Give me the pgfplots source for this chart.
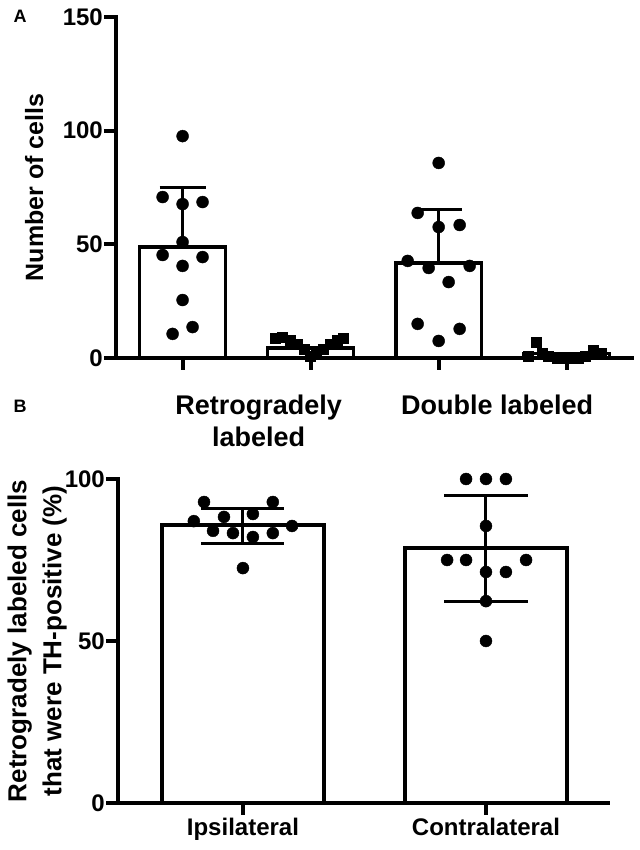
\documentclass[border=0pt]{standalone}
\usepackage{fontspec}
\setmainfont{Liberation Sans}
\usepackage{pgfplots}
\pgfplotsset{compat=1.18}

\pgfplotsset{
  gp/.style={
    scale only axis, clip=false,
    axis x line*=bottom, axis y line*=left,
    axis line style={line width=4bp, line cap=rect},
    tick align=outside, major tick length=12bp,
    tick style={line width=4bp, black},
    /pgf/number format/assume math mode=true,
    tick label style={font=\fontsize{24bp}{28bp}\selectfont\bfseries},
    yticklabel style={inner sep=1bp},
  },
  bars/.style={ybar, bar width=0.67, fill=white, draw=black, line width=3.5bp},
  err/.style={black, line width=3bp, forget plot},
  dots/.style={only marks, mark=*, mark size=6bp, black},
  sq/.style={only marks, mark=square*, mark size=5bp, black},
}

\begin{document}
\begin{tikzpicture}
\useasboundingbox (0,0) rectangle (640bp,850bp);

% ---- panel A
\begin{axis}[gp,
  at={(116bp,492bp)}, anchor=south west,
  width=516bp, height=341bp,
  xmin=-0.52, xmax=3.51, ymin=0, ymax=150,
  xtick={0,1,2,3}, xticklabels={,,,},
  ytick={0,50,100,150},
]
\addplot[bars] coordinates {(0,48.8) (1,4.4) (2,41.8) (3,2)};
% mean + SD
\addplot[err] coordinates {(0,48.8) (0,75.2)};
\addplot[err] coordinates {(-0.18,75.2) (0.18,75.2)};
\addplot[err] coordinates {(2,41.8) (2,65.5)};
\addplot[err] coordinates {(1.82,65.5) (2.18,65.5)};
% retrogradely labeled, ipsilateral
\addplot[dots] coordinates {
  (0,97.6) (-0.156,70.8) (0,67.7) (0.156,68.6) (0,51)
  (-0.156,45.3) (0.156,44.4) (0,40.5) (0,25.5) (-0.078,10.6) (0.078,13.6)};
\addplot[sq] coordinates {
  (0.727,8.5) (0.781,9) (0.844,8) (0.898,6) (0.953,4) (1,1)
  (1.047,2) (1.102,4) (1.156,6) (1.211,8) (1.258,8.5)};
% double labeled
\addplot[dots] coordinates {
  (2,85.8) (1.836,63.8) (2,57.6) (2.164,58.5) (1.758,42.7)
  (1.922,39.6) (2.242,40.5) (2.078,33.4) (1.836,15) (2.164,12.8) (2,7.5)};
\addplot[sq] coordinates {
  (2.758,7) (2.703,1) (2.805,2) (2.859,1) (2.922,0) (2.977,0)
  (3.031,0) (3.086,0) (3.141,1) (3.203,3.5) (3.266,2)};

\node[xshift=-73bp, rotate=90, anchor=base,
  font=\fontsize{25bp}{30bp}\selectfont\bfseries]
  at (rel axis cs:0,0.5) {Number of cells};
\node[anchor=base, font=\fontsize{27bp}{32bp}\selectfont\bfseries]
  at (axis cs:0.594,0) [yshift=-57bp] {Retrogradely};
\node[anchor=base, font=\fontsize{27bp}{32bp}\selectfont\bfseries]
  at (axis cs:0.594,0) [yshift=-89bp] {labeled};
\node[anchor=base, font=\fontsize{27bp}{32bp}\selectfont\bfseries]
  at (axis cs:2.456,0) [yshift=-57bp] {Double labeled};
\end{axis}

% ---- panel B
\begin{axis}[gp,
  at={(118bp,47bp)}, anchor=south west,
  width=490bp, height=324bp,
  xmin=-0.514, xmax=1.502, ymin=0, ymax=100,
  xtick={0,1}, xticklabels={Ipsilateral,Contralateral},
  ytick={0,50,100},
]
\addplot[bars, line width=4bp] coordinates {(0,85.8) (1,78.7)};
% mean +/- SD
\addplot[err] coordinates {(0,80) (0,91)};
\addplot[err] coordinates {(-0.171,91) (0.171,91)};
\addplot[err] coordinates {(-0.171,80) (0.171,80)};
\addplot[err] coordinates {(1,62.3) (1,95)};
\addplot[err] coordinates {(0.829,95) (1.171,95)};
\addplot[err] coordinates {(0.829,62.3) (1.171,62.3)};
\addplot[dots] coordinates {
  (-0.160,92.9) (0.123,92.9) (-0.202,87) (-0.078,88.3) (0.041,89.2)
  (0.202,85.5) (-0.123,84) (-0.041,83.3) (0.041,82.1) (0.123,83.3) (0,72.5)};
\addplot[dots] coordinates {
  (0.918,100) (1,100) (1.082,100) (1,85.5) (0.840,75) (0.918,75)
  (1.165,75) (1,71.3) (1.082,71.3) (1,62.3) (1,50)};

\node[xshift=-51bp, rotate=90, anchor=south, align=center, inner sep=0pt,
  font=\fontsize{26bp}{35bp}\selectfont\bfseries]
  at (rel axis cs:0,0.5)
  {Retrogradely labeled cells\\that were TH-positive (\%)};
\end{axis}

\node[anchor=base west, font=\fontsize{18bp}{20bp}\selectfont\bfseries]
  at (10bp,827bp) {A};
\node[anchor=base west, font=\fontsize{18bp}{20bp}\selectfont\bfseries]
  at (10bp,437bp) {B};
\end{tikzpicture}
\end{document}
